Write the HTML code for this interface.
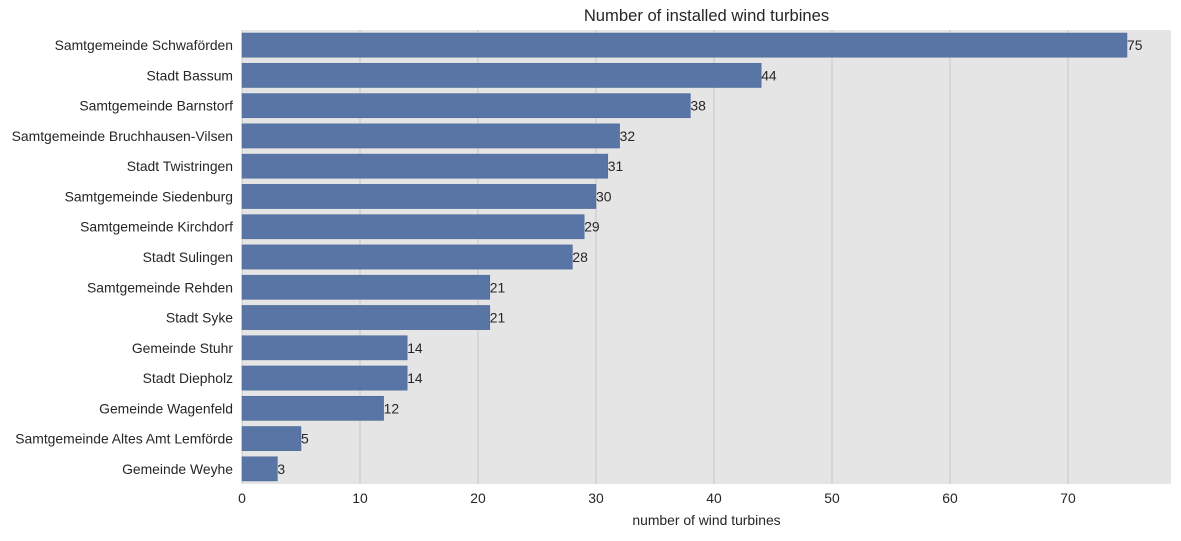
<!DOCTYPE html>
<html><head><meta charset="utf-8"><style>
body{margin:0;background:#fff;font-family:"Liberation Sans",Arial,sans-serif;}
svg text{font-family:"Liberation Sans",Arial,sans-serif;fill:#262626;}
</style></head><body>
<svg id="chart" width="1181" height="536"></svg>
<script>
const categories=["Samtgemeinde Schwaförden","Stadt Bassum","Samtgemeinde Barnstorf","Samtgemeinde Bruchhausen-Vilsen","Stadt Twistringen","Samtgemeinde Siedenburg","Samtgemeinde Kirchdorf","Stadt Sulingen","Samtgemeinde Rehden","Stadt Syke","Gemeinde Stuhr","Stadt Diepholz","Gemeinde Wagenfeld","Samtgemeinde Altes Amt Lemförde","Gemeinde Weyhe"];
const values=[75,44,38,32,31,30,29,28,21,21,14,14,12,5,3];
const xTicks=[0,10,20,30,40,50,60,70];
const NS="http://www.w3.org/2000/svg";
const svg=document.getElementById('chart');
const L=242,R=1171,T=30,B=484;
const xMax=(R-L)/11.8;
const x=v=>L+v/xMax*(R-L);
const band=(B-T)/categories.length;
const y=i=>T+i*band;
const FS=13.9;
function mk(t,a,txt){const e=document.createElementNS(NS,t);for(const k in a)e.setAttribute(k,a[k]);if(txt!==undefined)e.textContent=txt;svg.appendChild(e);return e;}
let e=mk('rect',{x:L,y:T,width:R-L,height:B-T,fill:'#e5e5e5'});


xTicks.forEach(t=>{
 let g=mk('line',{x1:x(t),x2:x(t),y1:T,y2:B,stroke:'#c8c8c8','stroke-width':1});
 
 
 let l=mk('text',{x:x(t),y:B+19,'text-anchor':'middle','font-size':FS},t);
 
 
});
categories.forEach((c,i)=>{
 const bh=band*0.8,by=y(i)+band*0.1;
 let b=mk('rect',{x:L,y:by,width:x(values[i])-L,height:bh,fill:'#5875a5',stroke:'#4a6696','stroke-width':0.5});
 
 
 let v=mk('text',{x:x(values[i]),y:by+bh/2+5,'font-size':FS},values[i]);
 
 
 let l=mk('text',{x:L-9,y:by+bh/2+5,'text-anchor':'end','font-size':FS},c);
 
 
});
let tt=mk('text',{x:(L+R)/2,y:21,'text-anchor':'middle','font-size':16.6},'Number of installed wind turbines');


let xl=mk('text',{x:(L+R)/2,y:525,'text-anchor':'middle','font-size':FS},'number of wind turbines');


</script>
</body></html>
